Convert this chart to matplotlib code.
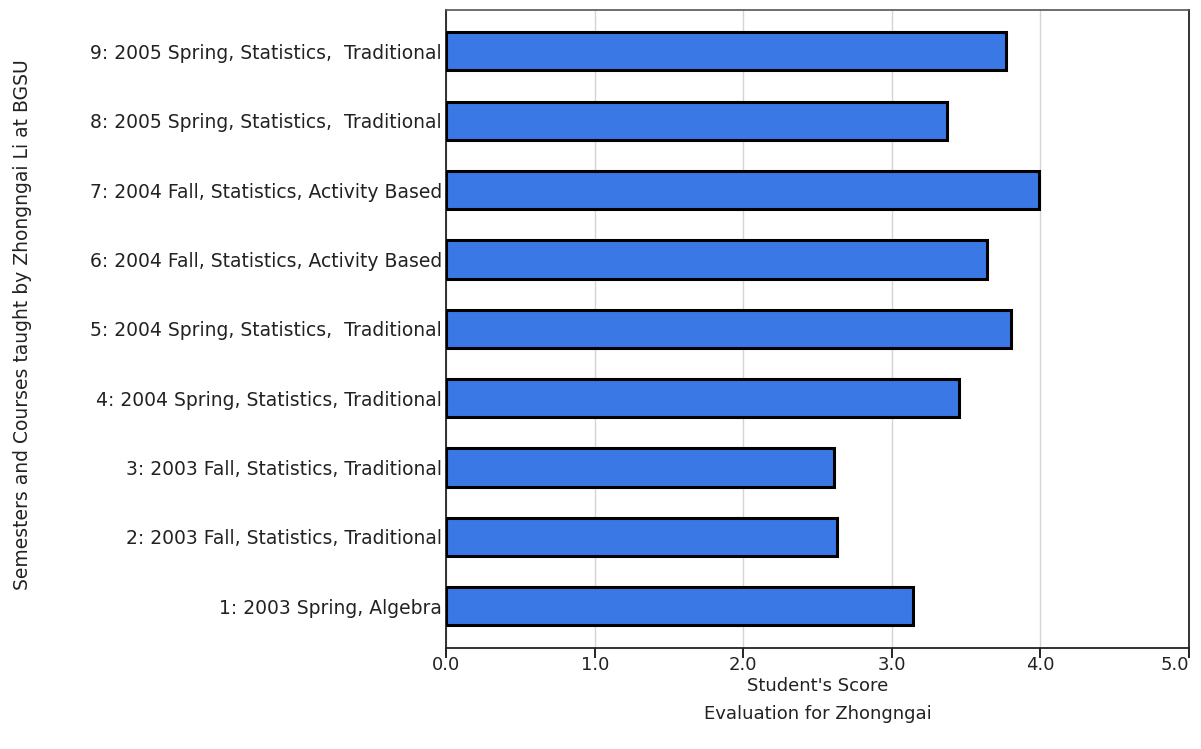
import matplotlib
matplotlib.use("Agg")
import matplotlib.pyplot as plt

labels = [
    "1: 2003 Spring, Algebra",
    "2: 2003 Fall, Statistics, Traditional",
    "3: 2003 Fall, Statistics, Traditional",
    "4: 2004 Spring, Statistics, Traditional",
    "5: 2004 Spring, Statistics,  Traditional",
    "6: 2004 Fall, Statistics, Activity Based",
    "7: 2004 Fall, Statistics, Activity Based",
    "8: 2005 Spring, Statistics,  Traditional",
    "9: 2005 Spring, Statistics,  Traditional",
]
scores = [3.14, 2.63, 2.61, 3.45, 3.80, 3.64, 3.99, 3.37, 3.77]
x_ticks = [0.0, 1.0, 2.0, 3.0, 4.0, 5.0]

plt.rcParams["font.family"] = ["DejaVu Sans"]

fig = plt.figure(figsize=(12.01, 7.49), dpi=100)
ax = fig.add_axes([0.3715, 0.135, 0.6185, 0.852])

pos = list(range(len(labels)))
ax.barh(pos, scores, height=0.55, color="#3a78e6", edgecolor="black",
        linewidth=2.2, zorder=3)

ax.set_xlim(0, 5)
ax.set_ylim(-0.6, len(labels) - 0.4)
ax.set_xticks(x_ticks)
ax.set_xticklabels([f"{t:.1f}" for t in x_ticks], fontsize=13, color="#222222")
# last label is pulled inside the figure, like the original
ax.get_xticklabels()[-1].set_horizontalalignment("right")
ax.set_yticks(pos)
ax.set_yticklabels(labels, fontsize=13.5, color="#222222")

ax.tick_params(axis="y", length=0, pad=3)
ax.tick_params(axis="x", length=7, width=1.2, direction="out", pad=-1)
ax.grid(axis="x", color="#d4d4d4", linewidth=1, zorder=0)

for side in ["left", "bottom", "right"]:
    ax.spines[side].set_color("#222222")
    ax.spines[side].set_linewidth(1.3)
ax.spines["top"].set_color("#555555")
ax.spines["top"].set_linewidth(1.2)

ax.set_xlabel("Student's Score\nEvaluation for Zhongngai", fontsize=13,
              color="#222222", linespacing=1.75, labelpad=2)
fig.text(0.011, 0.566, "Semesters and Courses taught by Zhongngai Li at BGSU",
         rotation=90, va="center", ha="left", fontsize=13.5, color="#222222")

fig.savefig("out.png", dpi=100)
